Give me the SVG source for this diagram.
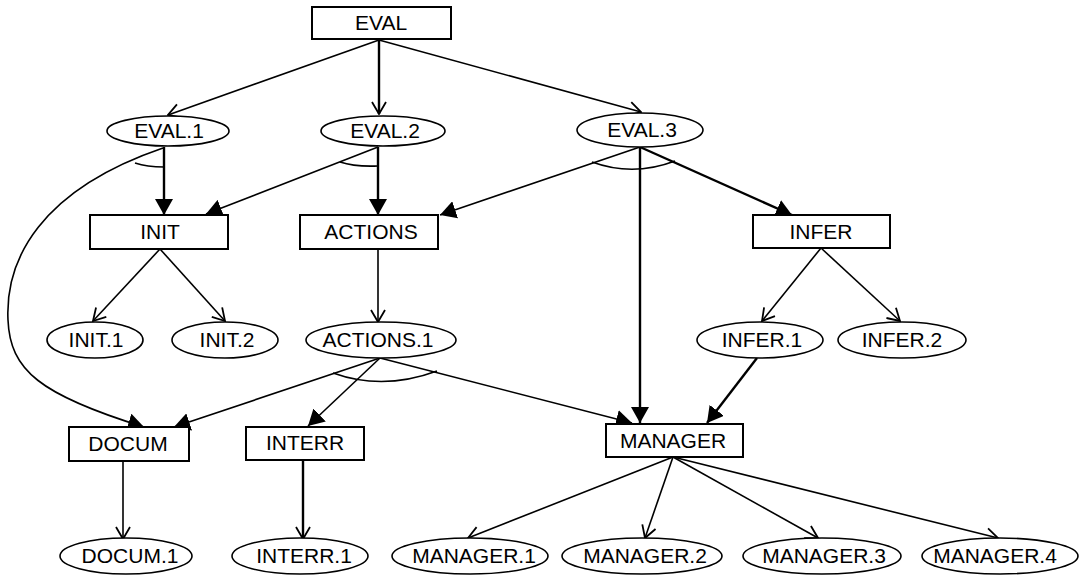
<svg xmlns="http://www.w3.org/2000/svg" width="1082" height="576" viewBox="0 0 1082 576">
<style>
  .box{fill:#fff;stroke:#000;stroke-width:2}
  .ell{fill:#fff;stroke:#000;stroke-width:1.6}
  .t{font-family:"Liberation Sans",Arial,sans-serif;font-size:21px;fill:#000;text-anchor:middle}
  .c{fill:none;stroke:#000;stroke-width:1.6}
  .k{stroke-width:2.4}
  .f{marker-end:url(#fa)}
  .o{marker-end:url(#oa)}
</style>
<defs>
  <marker id="fa" viewBox="0 0 16 18" refX="16" refY="9" markerWidth="16" markerHeight="18" orient="auto" markerUnits="userSpaceOnUse">
    <path d="M0,0 L16,9 L0,18 z" fill="#000"/>
  </marker>
  <marker id="oa" viewBox="0 0 14 16" refX="13" refY="8" markerWidth="14" markerHeight="16" orient="auto" markerUnits="userSpaceOnUse">
    <path d="M1,1 L13,8 L1,15" fill="none" stroke="#000" stroke-width="1.8"/>
  </marker>
</defs>
<rect width="1082" height="576" fill="#fff"/>
<g id="connectors">
  <path class="c o" d="M379,40 L168,115"/>
  <path class="c k o" d="M379,40 L379,114"/>
  <path class="c o" d="M379,40 L641,112"/>
  <path class="c k f" d="M164,147 L164,215"/>
  <path class="c f" d="M378,147 L206,214"/>
  <path class="c k f" d="M378,147 L378,215"/>
  <path class="c f" d="M640,147 L440,215"/>
  <path class="c k f" d="M640,147 L640,423"/>
  <path class="c k f" d="M640,147 L792,215"/>
  <path class="c f" d="M163,148 C40,190 5,260 8,320 C10,370 40,395 144,427"/>
  <path class="c o" d="M160,249 L93,321"/>
  <path class="c o" d="M160,249 L225,321"/>
  <path class="c o" d="M378,249 L378,322"/>
  <path class="c o" d="M821,248 L762,321"/>
  <path class="c o" d="M821,248 L900,321"/>
  <path class="c f" d="M380,358 L174,427"/>
  <path class="c f" d="M380,358 L308,426"/>
  <path class="c f" d="M380,358 L632,423"/>
  <path class="c k f" d="M757,358 L707,423"/>
  <path class="c o" d="M123,462 L123,539"/>
  <path class="c k o" d="M303,461 L303,539"/>
  <path class="c o" d="M673,457 L468,538"/>
  <path class="c o" d="M673,457 L645,538"/>
  <path class="c o" d="M673,457 L818,538"/>
  <path class="c o" d="M673,457 L998,538"/>
  <path class="c" d="M135,163 Q147,167 164,167"/>
  <path class="c" d="M340,162 Q355,167 378,166"/>
  <path class="c" d="M592,162 Q633,177 675,161"/>
  <path class="c" d="M333,373 Q383,391 437,371"/>
</g>
<g id="EVAL"><rect class="box" x="312" y="7" width="139" height="32"/><text class="t" x="381" y="30">EVAL</text></g>
<g id="EVAL.1"><ellipse class="ell" cx="168" cy="131" rx="61" ry="15"/><text class="t" x="169" y="138">EVAL.1</text></g>
<g id="EVAL.2"><ellipse class="ell" cx="383" cy="131" rx="62" ry="15"/><text class="t" x="385" y="138">EVAL.2</text></g>
<g id="EVAL.3"><ellipse class="ell" cx="640" cy="130" rx="63" ry="17"/><text class="t" x="642" y="137">EVAL.3</text></g>
<g id="INIT"><rect class="box" x="90" y="215" width="138" height="34"/><text class="t" x="160" y="239">INIT</text></g>
<g id="ACTIONS"><rect class="box" x="300" y="215" width="138" height="34"/><text class="t" x="371" y="239">ACTIONS</text></g>
<g id="INFER"><rect class="box" x="753" y="215" width="137" height="33"/><text class="t" x="821" y="239">INFER</text></g>
<g id="INIT.1"><ellipse class="ell" cx="95" cy="340" rx="48" ry="18"/><text class="t" x="96" y="347">INIT.1</text></g>
<g id="INIT.2"><ellipse class="ell" cx="225" cy="340" rx="53" ry="18"/><text class="t" x="227" y="347">INIT.2</text></g>
<g id="ACTIONS.1"><ellipse class="ell" cx="381" cy="340" rx="75" ry="18"/><text class="t" x="378" y="347">ACTIONS.1</text></g>
<g id="INFER.1"><ellipse class="ell" cx="760" cy="340" rx="63" ry="18"/><text class="t" x="762" y="347">INFER.1</text></g>
<g id="INFER.2"><ellipse class="ell" cx="902" cy="340" rx="64" ry="18"/><text class="t" x="902" y="347">INFER.2</text></g>
<g id="DOCUM"><rect class="box" x="69" y="427" width="120" height="34"/><text class="t" x="128" y="451">DOCUM</text></g>
<g id="INTERR"><rect class="box" x="246" y="427" width="118" height="33"/><text class="t" x="305" y="450">INTERR</text></g>
<g id="MANAGER"><rect class="box" x="606" y="424" width="137" height="33"/><text class="t" x="673" y="448">MANAGER</text></g>
<g id="DOCUM.1"><ellipse class="ell" cx="126" cy="556" rx="66" ry="18"/><text class="t" x="130" y="563">DOCUM.1</text></g>
<g id="INTERR.1"><ellipse class="ell" cx="300" cy="556" rx="68" ry="18"/><text class="t" x="304" y="563">INTERR.1</text></g>
<g id="MANAGER.1"><ellipse class="ell" cx="470" cy="556" rx="78" ry="18"/><text class="t" x="474" y="563">MANAGER.1</text></g>
<g id="MANAGER.2"><ellipse class="ell" cx="642" cy="556" rx="80" ry="18"/><text class="t" x="645" y="563">MANAGER.2</text></g>
<g id="MANAGER.3"><ellipse class="ell" cx="822" cy="556" rx="79" ry="18"/><text class="t" x="824" y="563">MANAGER.3</text></g>
<g id="MANAGER.4"><ellipse class="ell" cx="1000" cy="556" rx="78" ry="18"/><text class="t" x="995" y="563">MANAGER.4</text></g>
</svg>
